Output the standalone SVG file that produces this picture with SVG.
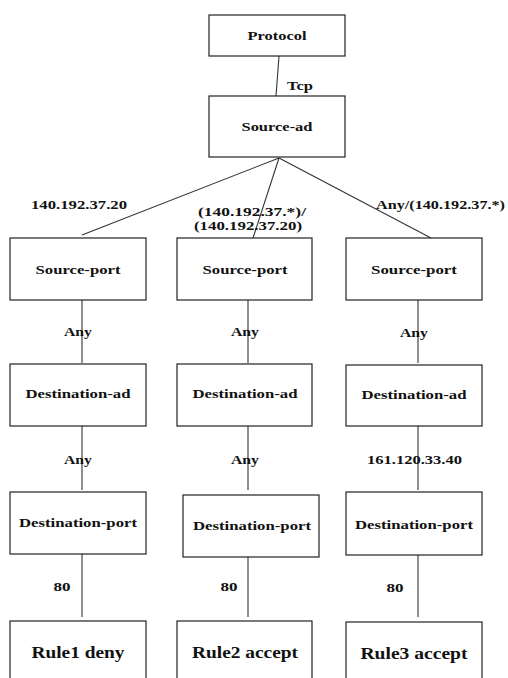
<svg xmlns="http://www.w3.org/2000/svg" width="508" height="678" viewBox="0 0 508 678">
<style>
rect.n{fill:#fff;stroke:#222;stroke-width:1.2}
text{font-family:"Liberation Serif","DejaVu Serif","Times New Roman",serif;font-weight:bold;font-size:13px;fill:#111;text-anchor:middle}
text.r{font-size:17px}
text.l{text-anchor:start}
#edges line{stroke:#333;stroke-width:1.1}
</style>
<rect width="508" height="678" fill="#fff"/>
<g id="edges">
<line x1="279" y1="56" x2="276" y2="96"/>
<line x1="279" y1="158" x2="82" y2="235"/>
<line x1="279" y1="158" x2="253" y2="238"/>
<line x1="279" y1="158" x2="431" y2="238"/>
<line x1="82" y1="299" x2="82" y2="363"/>
<line x1="248" y1="299" x2="248" y2="363"/>
<line x1="418" y1="299" x2="418" y2="363"/>
<line x1="82" y1="426" x2="82" y2="490"/>
<line x1="248" y1="426" x2="248" y2="490"/>
<line x1="418" y1="426" x2="418" y2="490"/>
<line x1="82" y1="553" x2="82" y2="617"/>
<line x1="248" y1="553" x2="248" y2="617"/>
<line x1="418" y1="553" x2="418" y2="617"/>
<text class="l" x="287" y="90" textLength="26" lengthAdjust="spacingAndGlyphs">Tcp</text>
<text class="l" x="31" y="209" textLength="96" lengthAdjust="spacingAndGlyphs">140.192.37.20</text>
<text class="l" x="198" y="216" textLength="108" lengthAdjust="spacingAndGlyphs">(140.192.37.*)/</text>
<text class="l" x="194" y="230" textLength="108" lengthAdjust="spacingAndGlyphs">(140.192.37.20)</text>
<text class="l" x="376" y="209" textLength="129" lengthAdjust="spacingAndGlyphs">Any/(140.192.37.*)</text>
<text x="78" y="336" textLength="28" lengthAdjust="spacingAndGlyphs">Any</text>
<text x="245" y="336" textLength="28" lengthAdjust="spacingAndGlyphs">Any</text>
<text x="414" y="337" textLength="28" lengthAdjust="spacingAndGlyphs">Any</text>
<text x="78" y="464" textLength="28" lengthAdjust="spacingAndGlyphs">Any</text>
<text x="245" y="464" textLength="28" lengthAdjust="spacingAndGlyphs">Any</text>
<text class="l" x="367" y="464" textLength="95" lengthAdjust="spacingAndGlyphs">161.120.33.40</text>
<text x="62" y="591" textLength="17" lengthAdjust="spacingAndGlyphs">80</text>
<text x="229" y="591" textLength="17" lengthAdjust="spacingAndGlyphs">80</text>
<text x="395" y="592" textLength="17" lengthAdjust="spacingAndGlyphs">80</text>
</g>
<g id="protocol"><rect class="n" x="209" y="15" width="136" height="41"/><text x="277" y="40" textLength="59" lengthAdjust="spacingAndGlyphs">Protocol</text></g>
<g id="source-ad"><rect class="n" x="209" y="96" width="136" height="61"/><text x="277" y="131" textLength="71" lengthAdjust="spacingAndGlyphs">Source-ad</text></g>
<g id="sp1"><rect class="n" x="10" y="238" width="136" height="62"/><text x="78" y="274" textLength="85" lengthAdjust="spacingAndGlyphs">Source-port</text></g>
<g id="sp2"><rect class="n" x="177" y="238" width="135" height="62"/><text x="245" y="274" textLength="85" lengthAdjust="spacingAndGlyphs">Source-port</text></g>
<g id="sp3"><rect class="n" x="346" y="238" width="136" height="62"/><text x="414" y="274" textLength="86" lengthAdjust="spacingAndGlyphs">Source-port</text></g>
<g id="da1"><rect class="n" x="10" y="364" width="136" height="62"/><text x="78" y="398" textLength="105" lengthAdjust="spacingAndGlyphs">Destination-ad</text></g>
<g id="da2"><rect class="n" x="177" y="364" width="135" height="62"/><text x="245" y="398" textLength="105" lengthAdjust="spacingAndGlyphs">Destination-ad</text></g>
<g id="da3"><rect class="n" x="346" y="365" width="136" height="61"/><text x="414" y="399" textLength="105" lengthAdjust="spacingAndGlyphs">Destination-ad</text></g>
<g id="dp1"><rect class="n" x="10" y="492" width="136" height="62"/><text x="78" y="527" textLength="118" lengthAdjust="spacingAndGlyphs">Destination-port</text></g>
<g id="dp2"><rect class="n" x="183" y="495" width="136" height="62"/><text x="252" y="530" textLength="118" lengthAdjust="spacingAndGlyphs">Destination-port</text></g>
<g id="dp3"><rect class="n" x="346" y="492" width="136" height="63"/><text x="414" y="529" textLength="118" lengthAdjust="spacingAndGlyphs">Destination-port</text></g>
<g id="r1"><rect class="n" x="10" y="621" width="136" height="70"/><text class="r" x="78" y="658" textLength="93" lengthAdjust="spacingAndGlyphs">Rule1 deny</text></g>
<g id="r2"><rect class="n" x="177" y="621" width="135" height="70"/><text class="r" x="245" y="658" textLength="106" lengthAdjust="spacingAndGlyphs">Rule2 accept</text></g>
<g id="r3"><rect class="n" x="346" y="622" width="136" height="70"/><text class="r" x="414" y="659" textLength="107" lengthAdjust="spacingAndGlyphs">Rule3 accept</text></g>
</svg>
